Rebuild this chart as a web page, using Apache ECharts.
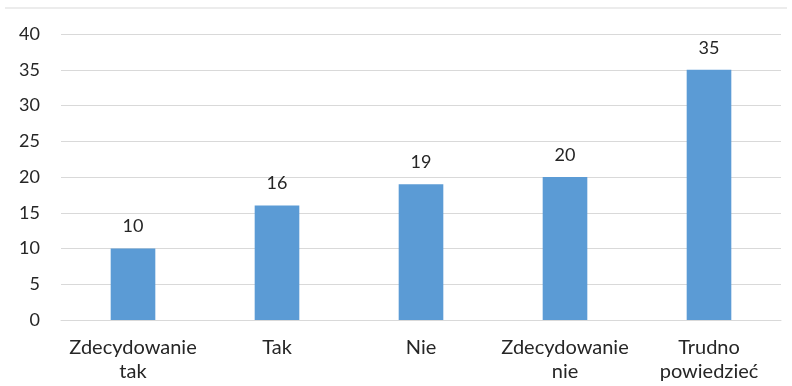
<!DOCTYPE html>
<html>
<head>
<meta charset="utf-8">
<script src="https://cdn.jsdelivr.net/npm/echarts@6/dist/echarts.min.js"></script>
<style>
  html, body { margin: 0; padding: 0; background: #fff; }
  #chart { width: 792px; height: 386px; }
</style>
</head>
<body>
<div id="chart"></div>
<script>
const categories = ['Zdecydowanie\ntak', 'Tak', 'Nie', 'Zdecydowanie\nnie', 'Trudno\npowiedzieć'];
const values = [10, 16, 19, 20, 35];
const yTicks = { min: 0, max: 40, interval: 5 };

const chart = echarts.init(document.getElementById('chart'));
const font = 'Lato, "Open Sans", sans-serif';
const grid = '#d9d9d9';
const numSize = 18;
const catSize = 20;

chart.setOption({
  animation: false,
  textStyle: { fontFamily: font },
  graphic: [{
    type: 'line',
    shape: { x1: 5, y1: 8, x2: 787, y2: 8 },
    style: { stroke: grid, lineWidth: 1 }
  }],
  grid: { left: 61, right: 11, top: 34, bottom: 66 },
  xAxis: {
    type: 'category',
    data: categories,
    axisLine: { lineStyle: { color: grid } },
    axisTick: { show: false },
    axisLabel: {
      color: '#262626', fontSize: catSize, lineHeight: 24, margin: 16,
      interval: 0, fontFamily: font
    }
  },
  yAxis: {
    type: 'value',
    min: yTicks.min, max: yTicks.max, interval: yTicks.interval,
    axisLine: { show: false },
    axisTick: { show: false },
    splitLine: { lineStyle: { color: grid, width: 1 } },
    axisLabel: { color: '#262626', fontSize: numSize, margin: 21, fontFamily: font }
  },
  series: [{
    type: 'bar',
    data: values,
    barWidth: '31%',
    itemStyle: { color: '#5b9bd5' },
    label: {
      show: true, position: 'top', distance: 13,
      color: '#262626', fontSize: numSize, fontFamily: font
    }
  }]
});
</script>
</body>
</html>
